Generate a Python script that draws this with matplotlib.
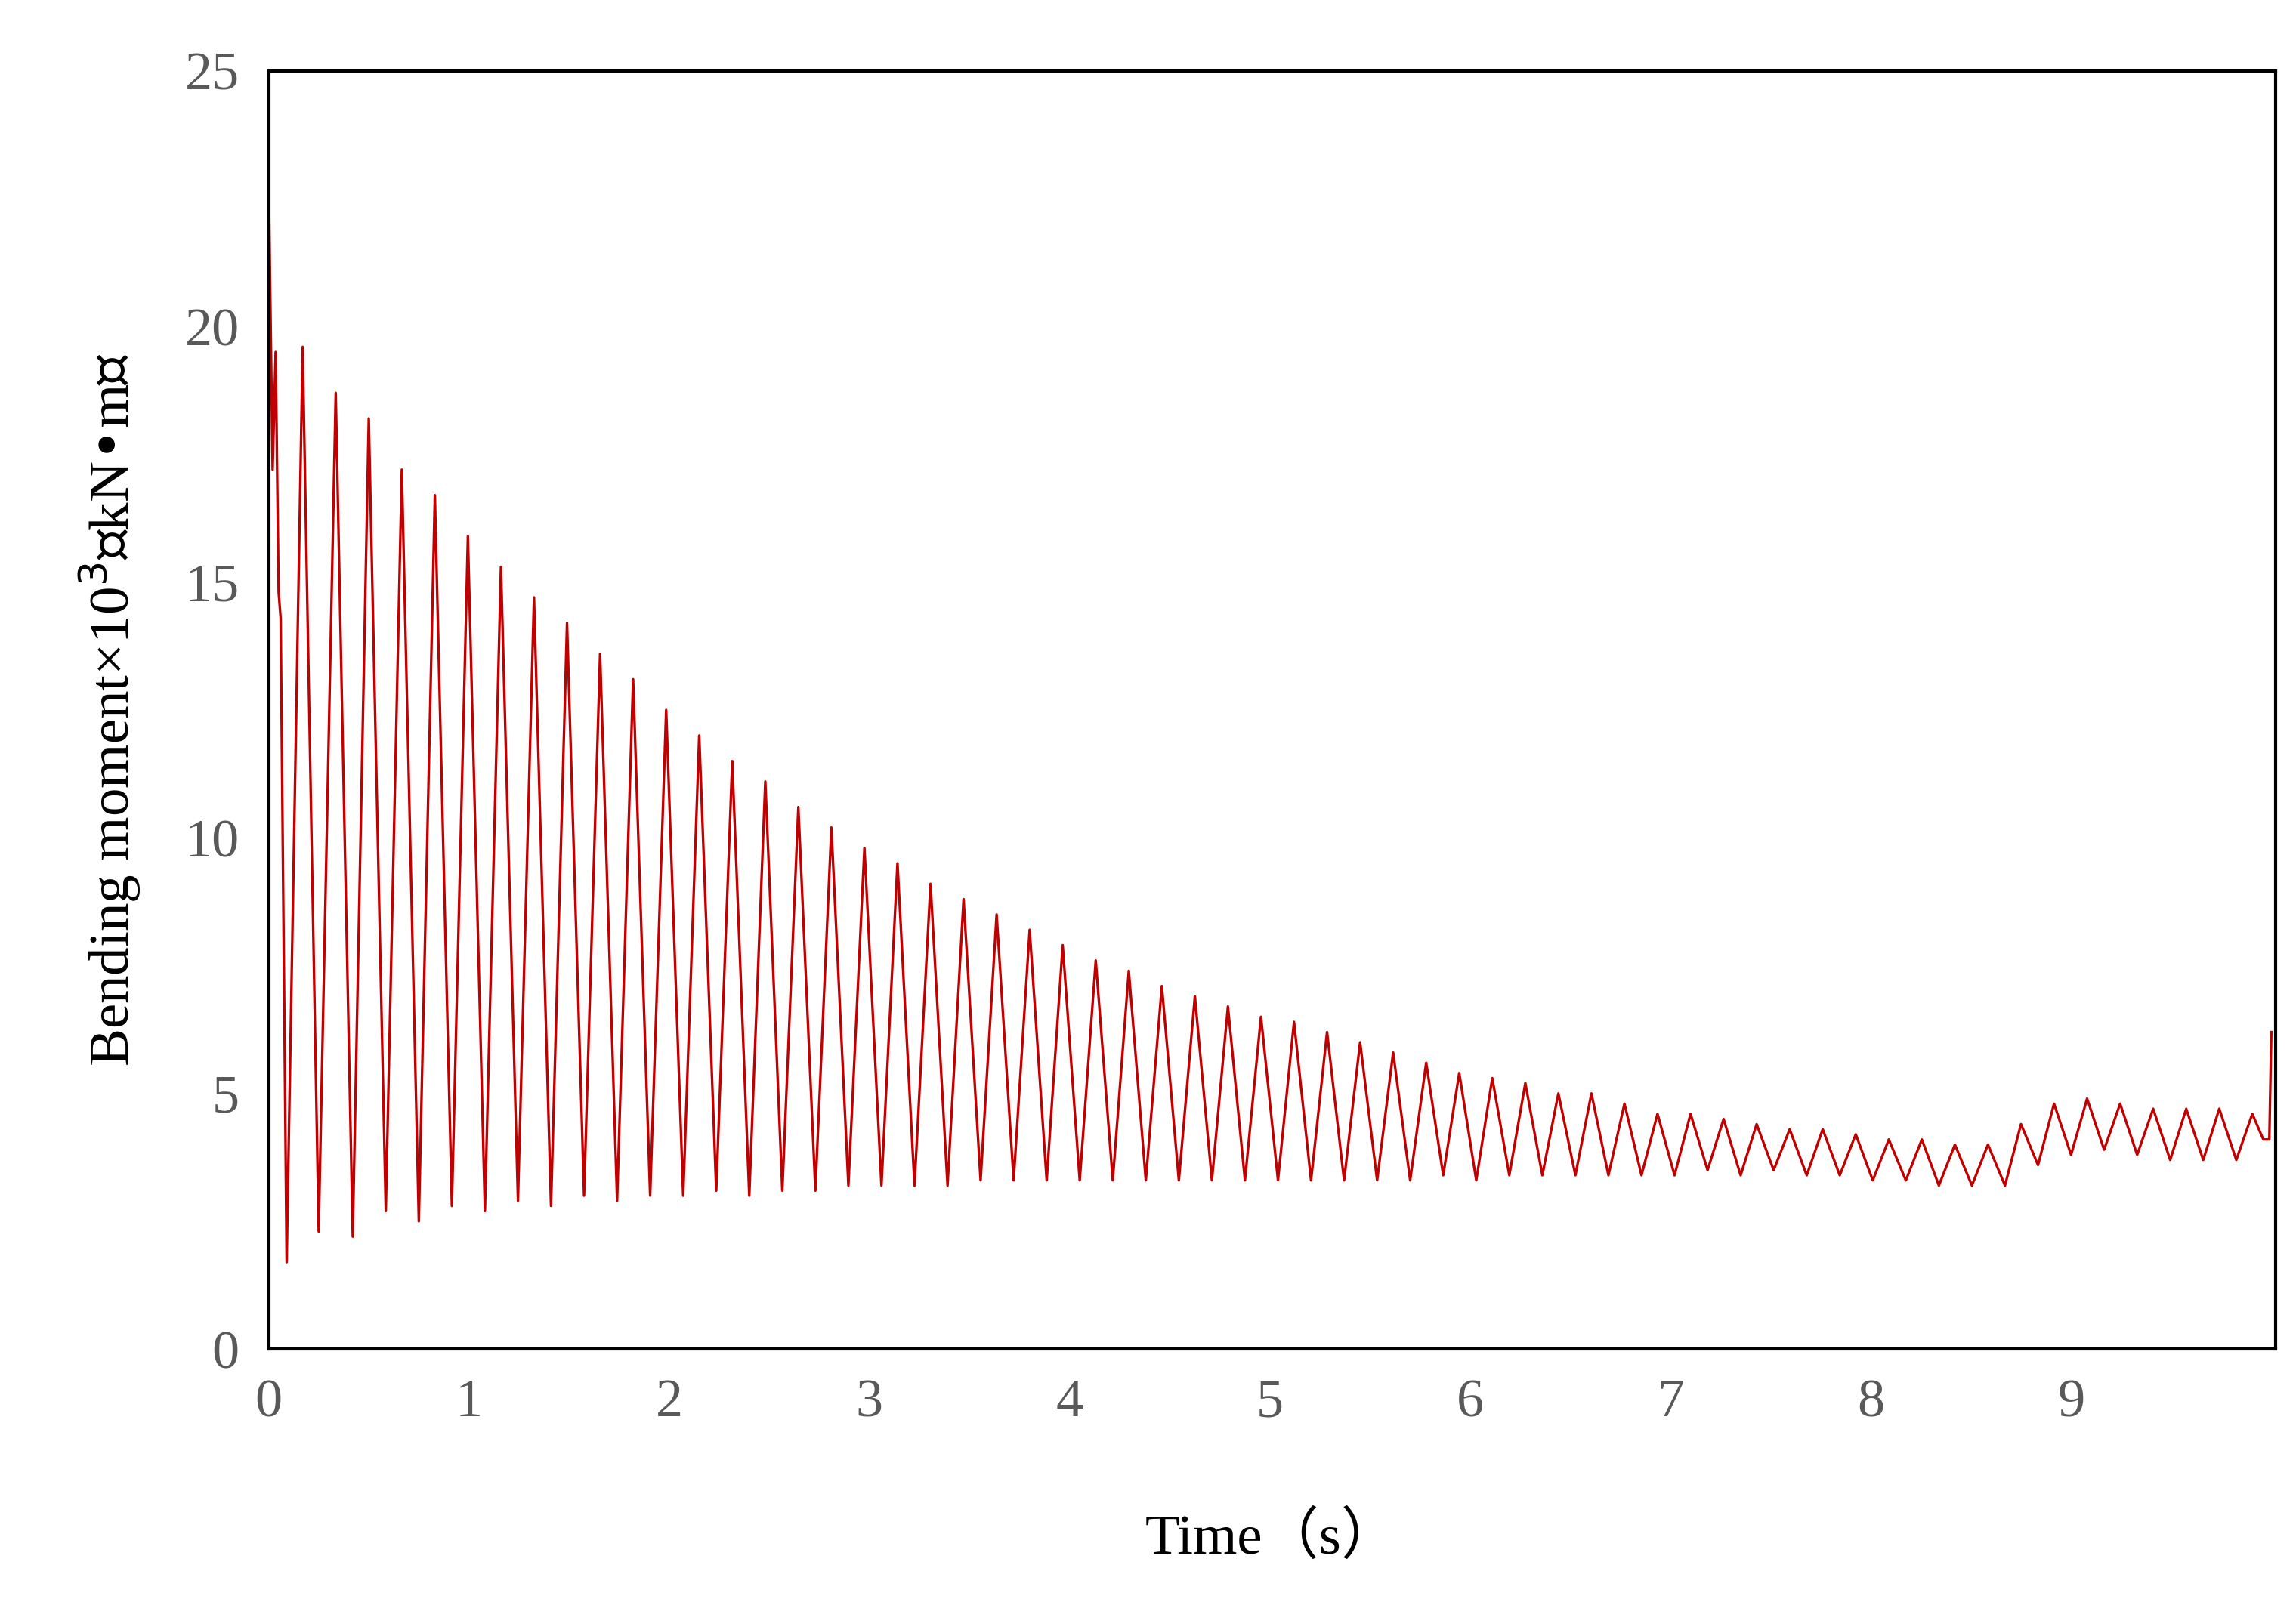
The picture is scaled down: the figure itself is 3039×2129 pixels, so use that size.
import matplotlib
matplotlib.use('Agg')
import matplotlib.pyplot as plt
import numpy as np

plt.rcParams['font.family'] = ['Liberation Serif', 'Noto Sans CJK SC', 'DejaVu Sans']

# opening transient (time s, moment x10^3 kN.m)
start_t = [0.0, 0.02, 0.035, 0.05, 0.06]
start_v = [23.0, 17.2, 19.5, 14.8, 14.3]

peak_t = [0.17, 0.335, 0.50, 0.665, 0.83, 0.995, 1.16, 1.325, 1.49, 1.655,
          1.82, 1.985, 2.15, 2.315, 2.48, 2.645, 2.81, 2.975, 3.14, 3.305,
          3.47, 3.635, 3.80, 3.965, 4.13, 4.295, 4.46, 4.625, 4.79, 4.955,
          5.12, 5.285, 5.45, 5.615, 5.78, 5.945, 6.11, 6.275, 6.44, 6.605,
          6.77, 6.935, 7.10, 7.265, 7.43, 7.595, 7.76, 7.925, 8.09, 8.255,
          8.42, 8.585, 8.75, 8.915, 9.08, 9.245, 9.41, 9.575, 9.74, 9.905]
peak_v = [19.6, 18.7, 18.2, 17.2, 16.7, 15.9, 15.3, 14.7, 14.2, 13.6,
          13.1, 12.5, 12.0, 11.5, 11.1, 10.6, 10.2, 9.8, 9.5, 9.1,
          8.8, 8.5, 8.2, 7.9, 7.6, 7.4, 7.1, 6.9, 6.7, 6.5,
          6.4, 6.2, 6.0, 5.8, 5.6, 5.4, 5.3, 5.2, 5.0, 5.0,
          4.8, 4.6, 4.6, 4.5, 4.4, 4.3, 4.3, 4.2, 4.1, 4.1,
          4.0, 4.0, 4.4, 4.8, 4.9, 4.8, 4.7, 4.7, 4.7, 4.6]
trough_t = [0.09, 0.25, 0.42, 0.585, 0.75, 0.915, 1.08, 1.245, 1.41, 1.575,
            1.74, 1.905, 2.07, 2.235, 2.40, 2.565, 2.73, 2.895, 3.06, 3.225,
            3.39, 3.555, 3.72, 3.885, 4.05, 4.215, 4.38, 4.545, 4.71, 4.875,
            5.04, 5.205, 5.37, 5.535, 5.70, 5.865, 6.03, 6.195, 6.36, 6.525,
            6.69, 6.855, 7.02, 7.185, 7.35, 7.515, 7.68, 7.845, 8.01, 8.175,
            8.34, 8.505, 8.67, 8.835, 9.00, 9.165, 9.33, 9.495, 9.66, 9.825]
trough_v = [1.7, 2.3, 2.2, 2.7, 2.5, 2.8, 2.7, 2.9, 2.8, 3.0,
            2.9, 3.0, 3.0, 3.1, 3.0, 3.1, 3.1, 3.2, 3.2, 3.2,
            3.2, 3.3, 3.3, 3.3, 3.3, 3.3, 3.3, 3.3, 3.3, 3.3,
            3.3, 3.3, 3.3, 3.3, 3.3, 3.4, 3.3, 3.4, 3.4, 3.4,
            3.4, 3.4, 3.4, 3.5, 3.4, 3.5, 3.4, 3.4, 3.3, 3.3,
            3.2, 3.2, 3.2, 3.6, 3.8, 3.9, 3.8, 3.7, 3.7, 3.7]
end_t = [9.96, 9.99, 10.0]
end_v = [4.1, 4.1, 6.2]

t = list(start_t)
v = list(start_v)
for a, b, c, d in zip(trough_t, trough_v, peak_t, peak_v):
    t += [a, c]
    v += [b, d]
t += end_t
v += end_v

fig = plt.figure(figsize=(15.195, 10.645), dpi=200)
ax = fig.add_axes([0.117, 0.161, 0.874, 0.795])
ax.plot(t, v, color='#C00000', lw=1.2)
ax.set_xlim(0, 10.02)
ax.set_ylim(0, 25)
ax.set_xticks(range(10))
ax.set_yticks([0, 5, 10, 15, 20, 25])
ax.tick_params(length=0, labelsize=26, labelcolor='#595959', pad=14)
for s in ax.spines.values():
    s.set_linewidth(1.5)
ax.set_xlabel('Time（s）', fontsize=27, labelpad=40)
ax.set_ylabel('Bending moment×10$^3$（kN•m）', fontsize=27, labelpad=20)
fig.savefig('out.png', dpi=200)
